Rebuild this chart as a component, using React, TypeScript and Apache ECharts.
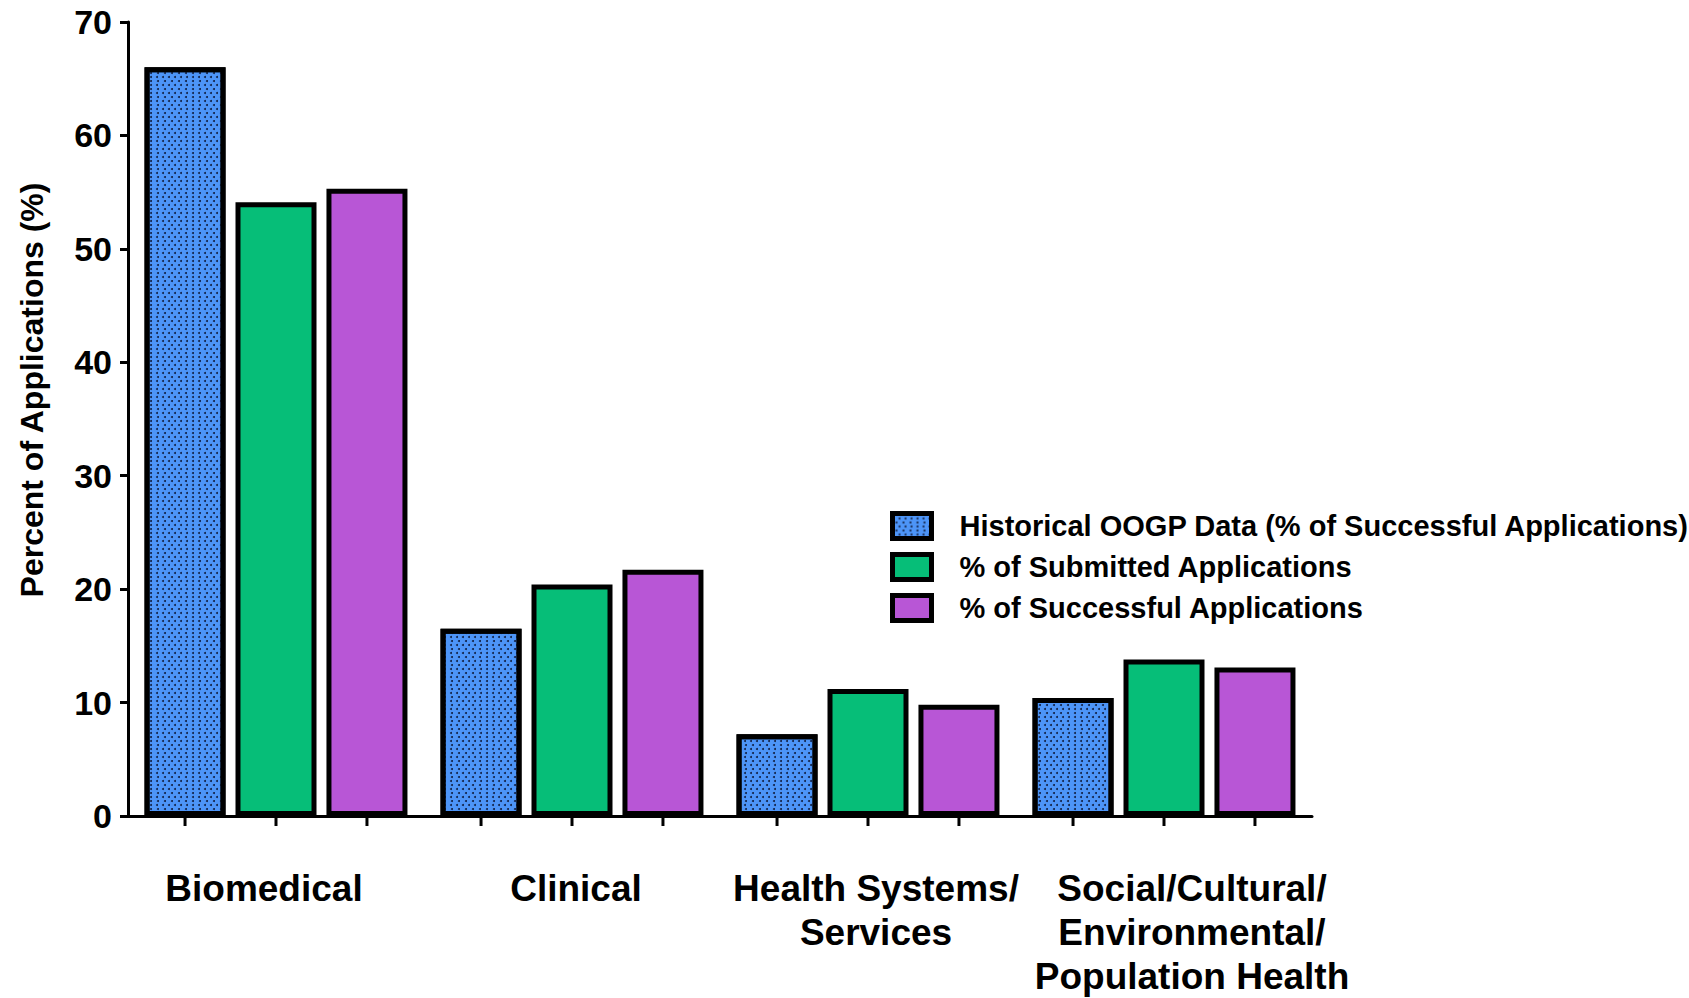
import React, { useEffect, useRef } from "react";
import * as echarts from "echarts";

const categories = [
  "Biomedical",
  "Clinical",
  "Health Systems/\nServices",
  "Social/Cultural/\nEnvironmental/\nPopulation Health",
];
const seriesNames = [
  "Historical OOGP Data (% of Successful Applications)",
  "% of Submitted Applications",
  "% of Successful Applications",
];
const historical = [66.0, 16.5, 7.2, 10.4];
const submitted = [54.1, 20.4, 11.2, 13.8];
const successful = [55.3, 21.7, 9.8, 13.1];
const yMin = 0;
const yMax = 70;
const yInterval = 10;

const FONT = "'Liberation Sans', Arial, Helvetica, sans-serif";
const BAR_W = 81;
const BAR_GAP = 0.123;
const BORDER = 5;

export default function App() {
  const ref = useRef<HTMLDivElement>(null);
  useEffect(() => {
    if (!ref.current) return;
    const chart = echarts.init(ref.current, undefined, { renderer: "svg" });
    const decal = {
      symbol: "circle",
      symbolSize: 1,
      color: "rgba(10,20,50,0.9)",
      dashArrayX: [[1.3, 3.7], [0, 2.5, 1.3, 1.2]],
      dashArrayY: [1.3, 2.0],
      rotation: 0,
    };
    const colors = ["#4D95F8", "#06BE78", "#B856D6"];
    const values = [historical, submitted, successful];
    const barSeries = seriesNames.map((name, i) => ({
      name,
      type: "bar",
      data: values[i],
      barWidth: BAR_W,
      barGap: BAR_GAP * 100 + "%",
      itemStyle: {
        color: colors[i],
        borderColor: "#000",
        borderWidth: BORDER,
        ...(i === 0 ? { decal } : {}),
      },
      z: 3,
    }));
    const labelPads = [
      [0, 24, 0, 0],
      [0, 0, 0, 8],
      [0, 0, 0, 16],
      [0, 0, 0, 56],
    ];
    chart.setOption({
      animation: false,
      backgroundColor: "#fff",
      grid: { left: 128, top: 22, width: 1184, height: 796, containLabel: false },
      legend: {
        data: seriesNames,
        orient: "vertical",
        left: 890,
        top: 511,
        padding: 0,
        itemWidth: 39,
        itemHeight: 25,
        itemGap: 11,
        icon: "rect",
        itemStyle: { borderColor: "#000", borderWidth: BORDER },
        textStyle: {
          fontFamily: FONT,
          fontWeight: "bold",
          fontSize: 29,
          color: "#000",
          lineHeight: 30,
          padding: [0, 0, 0, 23],
        },
      },
      xAxis: {
        type: "category",
        data: categories.map((c, i) => ({
          value: c,
          textStyle: { padding: labelPads[i] },
        })),
        axisLine: { show: true, lineStyle: { color: "#000", width: 3 } },
        axisTick: { show: false },
        axisLabel: {
          interval: 0,
          margin: 50,
          fontFamily: FONT,
          fontWeight: "bold",
          fontSize: 37,
          lineHeight: 44,
          color: "#000",
        },
      },
      yAxis: {
        type: "value",
        min: yMin,
        max: yMax,
        interval: yInterval,
        name: "Percent of Applications (%)",
        nameLocation: "middle",
        nameGap: 80,
        nameTextStyle: {
          fontFamily: FONT,
          fontWeight: "bold",
          fontSize: 32,
          color: "#000",
          padding: [0, 0, 0, 58],
        },
        splitLine: { show: false },
        axisLine: { show: true, lineStyle: { color: "#000", width: 3 } },
        axisTick: { show: true, length: 8, lineStyle: { color: "#000", width: 3 } },
        axisLabel: {
          margin: 16,
          fontFamily: FONT,
          fontWeight: "bold",
          fontSize: 34,
          color: "#000",
        },
      },
      series: [
        ...barSeries,
        {
          type: "custom",
          name: "ticks",
          silent: true,
          clip: false,
          coordinateSystem: "cartesian2d",
          encode: { x: 0, y: 1 },
          data: categories.map((_, i) => [i, 0]),
          renderItem: (params: any, api: any) => {
            const p = api.coord([api.value(0), 0]);
            const off = BAR_W * (1 + BAR_GAP);
            return {
              type: "group",
              children: [-1, 0, 1].map((k) => ({
                type: "line",
                shape: { x1: p[0] + k * off, y1: p[1] + 1, x2: p[0] + k * off, y2: p[1] + 10 },
                style: { stroke: "#000", lineWidth: 3 },
              })),
            };
          },
          z: 1,
        },
      ],
    });
    return () => chart.dispose();
  }, []);
  return (
    <div
      ref={ref}
      style={{ position: "fixed", left: 0, top: 0, width: 1689, height: 998, background: "#fff" }}
    />
  );
}
